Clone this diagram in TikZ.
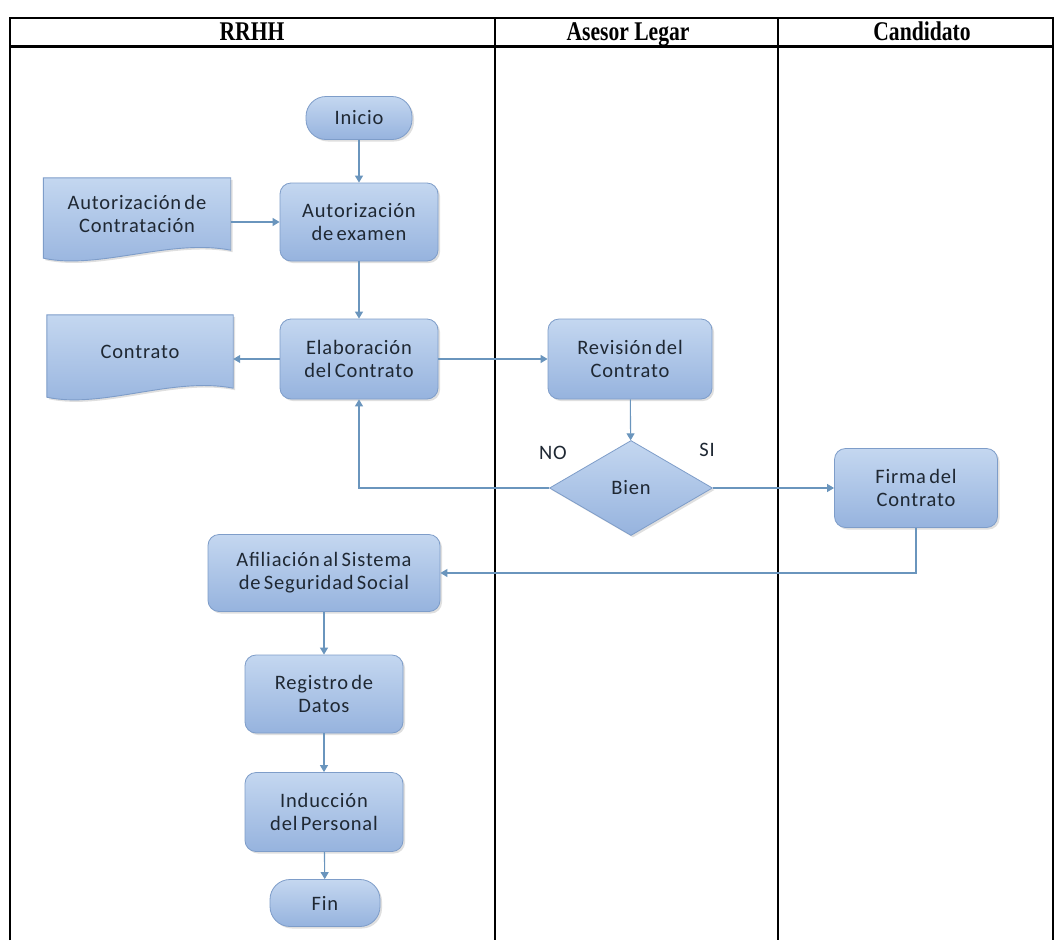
\documentclass[tikz,border=0pt]{standalone}
\usepackage{fontspec}
\setmainfont[LetterSpace=4,WordSpace=0.6]{Carlito}
\newfontfamily\hdrfont[FakeStretch=0.8]{Liberation Serif}
\usetikzlibrary{shapes.geometric,arrows.meta,calc,backgrounds,shadows}

\definecolor{boxtop}{HTML}{C4D7F0}
\definecolor{boxbot}{HTML}{96B3DE}
\definecolor{boxline}{HTML}{7E9DC9}
\definecolor{flow}{HTML}{6A95BD}
\definecolor{ink}{HTML}{1F2833}

\tikzset{
  boxfont/.style={font=\fontsize{20.5}{23}\selectfont},
  base/.style={top color=boxtop, bottom color=boxbot, draw=boxline, line width=0.8pt,
    text=ink, align=center, boxfont, inner sep=2pt,
    drop shadow={shadow xshift=2pt, shadow yshift=-2pt, opacity=0.25}},
  proc/.style={base, rounded corners=11pt},
  term/.style={base, rounded corners=20pt},
  decide/.style={base, diamond, inner sep=0pt},
  docnode/.style={align=center, text=ink, boxfont, inner sep=0pt},
  docshape/.style={top color=boxtop, bottom color=boxbot, draw=boxline, line width=0.9pt},
  flowarrow/.style={draw=flow, line width=1.1pt, -{Triangle[width=8pt,length=7pt]}},
  lane/.style={draw=black, line width=1.2pt},
  hdr/.style={font=\hdrfont\bfseries\fontsize{27}{30}\selectfont, text=black, anchor=base},
  tag/.style={boxfont, text=ink}
}

\begin{document}
\begin{tikzpicture}[x=1pt,y=-1pt]
\useasboundingbox (0,0) rectangle (1055,940);

% process steps
\node[term, minimum width=106pt, minimum height=43pt] (ini) at (359,118) {Inicio};
\node[proc, minimum width=158pt, minimum height=78pt] (aut) at (359,222) {Autorización\\de examen};
\node[proc, minimum width=158pt, minimum height=80pt] (elab) at (359,359) {Elaboración\\del Contrato};
\node[proc, minimum width=164pt, minimum height=80pt] (rev) at (630,359) {Revisión del\\Contrato};
\node[decide, minimum width=163pt, minimum height=95pt] (bien) at (631,488) {Bien};
\node[proc, minimum width=163pt, minimum height=79pt] (firma) at (916,488) {Firma del\\Contrato};
\node[proc, minimum width=232pt, minimum height=77pt] (afil) at (324,573) {Afiliación al Sistema\\de Seguridad Social};
\node[proc, minimum width=158pt, minimum height=78pt] (reg) at (324,694) {Registro de\\Datos};
\node[proc, minimum width=158pt, minimum height=79pt] (ind) at (324,812) {Inducción\\del Personal};
\node[term, minimum width=110pt, minimum height=47pt] (fin) at (325,903) {Fin};

% documents (text area; outline drawn below on the background layer)
\node[docnode, minimum width=187pt, minimum height=72pt] (doc1) at (137,214) {Autorización de\\Contratación};
\node[docnode, minimum width=186pt, minimum height=73pt] (doc2) at (140,351.5) {Contrato};

\begin{pgfonlayer}{background}
\fill[white] (0,0) rectangle (1055,940);
\path[docshape, drop shadow={shadow xshift=2pt, shadow yshift=-2pt, opacity=0.25}]
  (doc1.north west) -- (doc1.north east) -- (doc1.south east)
  .. controls ($(doc1.south east)+(-60,-12)$) and ($(doc1.south west)+(55,20)$) .. ($(doc1.south west)+(0,8)$) -- cycle;
\path[docshape, drop shadow={shadow xshift=2pt, shadow yshift=-2pt, opacity=0.25}]
  (doc2.north west) -- (doc2.north east) -- (doc2.south east)
  .. controls ($(doc2.south east)+(-60,-12)$) and ($(doc2.south west)+(55,21)$) .. ($(doc2.south west)+(0,9)$) -- cycle;
\end{pgfonlayer}

% swimlane frame
\draw[lane] (10,940) -- (10,18) -- (1053,18) -- (1053,940);
\draw[black, line width=3pt] (10,46) -- (1053,46);
\draw[lane] (495,18) -- (495,940);
\draw[lane] (778,18) -- (778,940);
\node[hdr] (hrrhh) at (252,40) {RRHH};
\node[hdr] (hlegal) at (628,40) {Asesor Legar};
\node[hdr] (hcand) at (922,40) {Candidato};

% connectors
\draw[flowarrow] (ini) -- (aut);
\draw[flowarrow] (doc1.east |- aut.west) -- (aut.west);
\draw[flowarrow] (aut) -- (elab);
\draw[flowarrow] (elab.west) -- (doc2.east |- elab.west);
\draw[flowarrow] (elab.east) -- (rev.west);
\draw[flowarrow] (rev) -- (bien);
\draw[flowarrow] (bien.west) -| (elab.south);
\draw[flowarrow] (bien.east) -- (firma.west);
\draw[flowarrow] (firma.south) |- (afil.east);
\draw[flowarrow] (afil) -- (reg);
\draw[flowarrow] (reg) -- (ind);
\draw[flowarrow] (ind) -- (fin);

% decision labels
\node[tag] (no) at (553,453) {NO};
\node[tag] (si) at (707,450) {SI};
\end{tikzpicture}
\end{document}
